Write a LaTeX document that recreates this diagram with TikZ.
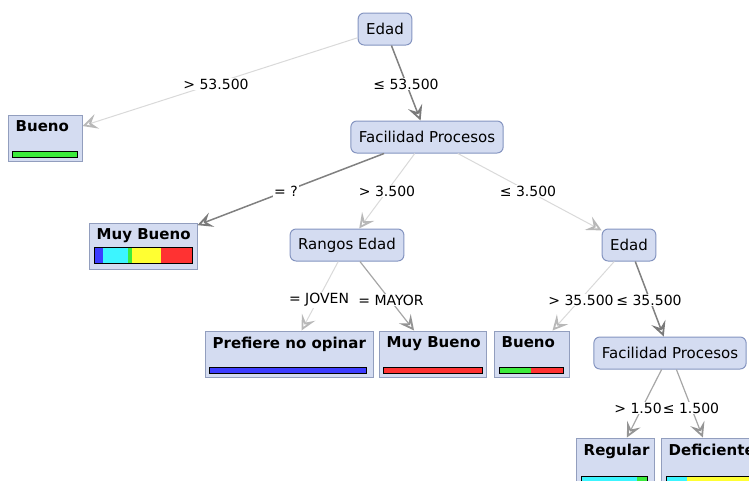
\documentclass[tikz,border=0pt]{standalone}
\usepackage{fontspec}
\setmainfont{DejaVu Sans}
\usetikzlibrary{arrows.meta}

\definecolor{nodefill}{RGB}{212,220,241}
\definecolor{nodeline}{RGB}{132,148,192}
\definecolor{leafline}{RGB}{146,158,190}
\definecolor{barblue}{RGB}{60,60,255}
\definecolor{barcyan}{RGB}{60,245,255}
\definecolor{bargreen}{RGB}{60,235,60}
\definecolor{baryellow}{RGB}{255,255,50}
\definecolor{barred}{RGB}{255,50,50}

\tikzset{
  testnode/.style={draw=nodeline, fill=nodefill, rounded corners=6pt, line width=1pt,
    minimum height=32pt, inner xsep=8pt, font=\fontsize{15}{18}\selectfont},
  leafnode/.style={draw=leafline, fill=nodefill, line width=1pt, minimum height=46pt},
  leaflbl/.style={anchor=north west, inner xsep=8pt, inner ysep=6pt,
    font=\bfseries\fontsize{15}{18}\selectfont},
  lbl/.style={fill=white, inner sep=1pt, font=\fontsize{14}{16}\selectfont},
  lightedge/.style={draw=black!15, line width=1pt,
    -{Stealth[open,length=15pt,width=15pt,inset=6pt,line width=1.8pt,color=black!28]}},
  midedge/.style={draw=black!35, line width=1.2pt,
    -{Stealth[open,length=15pt,width=15pt,inset=6pt,line width=1.8pt,color=black!42]}},
  darkedge/.style={draw=black!50, line width=1.5pt,
    -{Stealth[open,length=15pt,width=15pt,inset=6pt,line width=1.8pt,color=black!52]}},
  bar/.style={draw=black, line width=0.8pt}
}

\begin{document}
\begin{tikzpicture}[x=1pt,y=-1pt]
  \useasboundingbox (0,0) rectangle (749,480);
  \clip (0,0) rectangle (749,480);

  % tests
  \node[testnode] (edad1) at (385,29) {Edad};
  \node[testnode] (fac1) at (427,137) {Facilidad Procesos};
  \node[testnode] (rangos) at (347,245) {Rangos Edad};
  \node[testnode] (edad2) at (629,245) {Edad};
  \node[testnode] (fac2) at (670,353) {Facilidad Procesos};

  % leaves
  \node[leafnode, minimum width=74pt, label={[leaflbl]north west:Bueno}] (bueno1) at (45,138) {};
  \node[leafnode, minimum width=108pt, label={[leaflbl]north west:Muy Bueno}] (muybueno1) at (143,246) {};
  \node[leafnode, minimum width=168pt, label={[leaflbl]north west:Prefiere no opinar}] (prefiere) at (289,354) {};
  \node[leafnode, minimum width=107pt, label={[leaflbl]north west:Muy Bueno}] (muybueno2) at (432.5,354) {};
  \node[leafnode, minimum width=75pt, label={[leaflbl]north west:Bueno}] (bueno2) at (531.5,354) {};
  \node[leafnode, minimum width=78pt, label={[leaflbl]north west:Regular}] (regular) at (615,461) {};
  \node[leafnode, minimum width=102pt, label={[leaflbl]north west:Deficiente}] (deficiente) at (712,461) {};

  % bars
  \fill[bargreen] (12,151) rectangle (77,157);
  \draw[bar] (12,151) rectangle (77,157);
  \fill[barblue] (94,247) rectangle (103,263);
  \fill[barcyan] (103,247) rectangle (128,263);
  \fill[bargreen] (128,247) rectangle (132,263);
  \fill[baryellow] (132,247) rectangle (161,263);
  \fill[barred] (161,247) rectangle (192,263);
  \draw[bar] (94,247) rectangle (192,263);
  \fill[barblue] (209,367) rectangle (366,373);
  \draw[bar] (209,367) rectangle (366,373);
  \fill[barred] (383,367) rectangle (482,373);
  \draw[bar] (383,367) rectangle (482,373);
  \fill[bargreen] (499,367) rectangle (531,373);
  \fill[barred] (531,367) rectangle (563,373);
  \draw[bar] (499,367) rectangle (563,373);
  \fill[barcyan] (581,476) rectangle (637,482);
  \fill[bargreen] (637,476) rectangle (647,482);
  \draw[bar] (581,476) rectangle (647,482);
  \fill[barcyan] (666,476) rectangle (687,482);
  \fill[baryellow] (687,476) rectangle (760,482);
  \draw[bar] (666,476) rectangle (760,482);

  % edges
  \draw[lightedge] (edad1) -- (bueno1);
  \draw[darkedge] (edad1) -- (fac1);
  \draw[darkedge] (fac1) -- (muybueno1);
  \draw[lightedge] (fac1) -- (rangos);
  \draw[lightedge] (fac1) -- (edad2);
  \draw[lightedge] (rangos) -- (prefiere);
  \draw[midedge] (rangos) -- (muybueno2);
  \draw[lightedge] (edad2) -- (bueno2);
  \draw[darkedge] (edad2) -- (fac2);
  \draw[midedge] (fac2) -- (regular);
  \draw[midedge] (fac2) -- (deficiente);

  % edge labels
  \node[lbl] (l1) at (216,84) {> 53.500};
  \node[lbl] (l2) at (406,84) {≤ 53.500};
  \node[lbl] (l3) at (286,191) {= ?};
  \node[lbl] (l4) at (387,191) {> 3.500};
  \node[lbl] (l5) at (528,191) {≤ 3.500};
  \node[lbl] (l6) at (319,300) {= JOVEN};
  \node[lbl] (l7) at (391,300) {= MAYOR};
  \node[lbl] (l8) at (581,300) {> 35.500};
  \node[lbl] (l9) at (649,300) {≤ 35.500};
  \node[lbl] (l10) at (638,408) {> 1.50};
  \node[lbl] (l11) at (691,408) {≤ 1.500};
\end{tikzpicture}
\end{document}
